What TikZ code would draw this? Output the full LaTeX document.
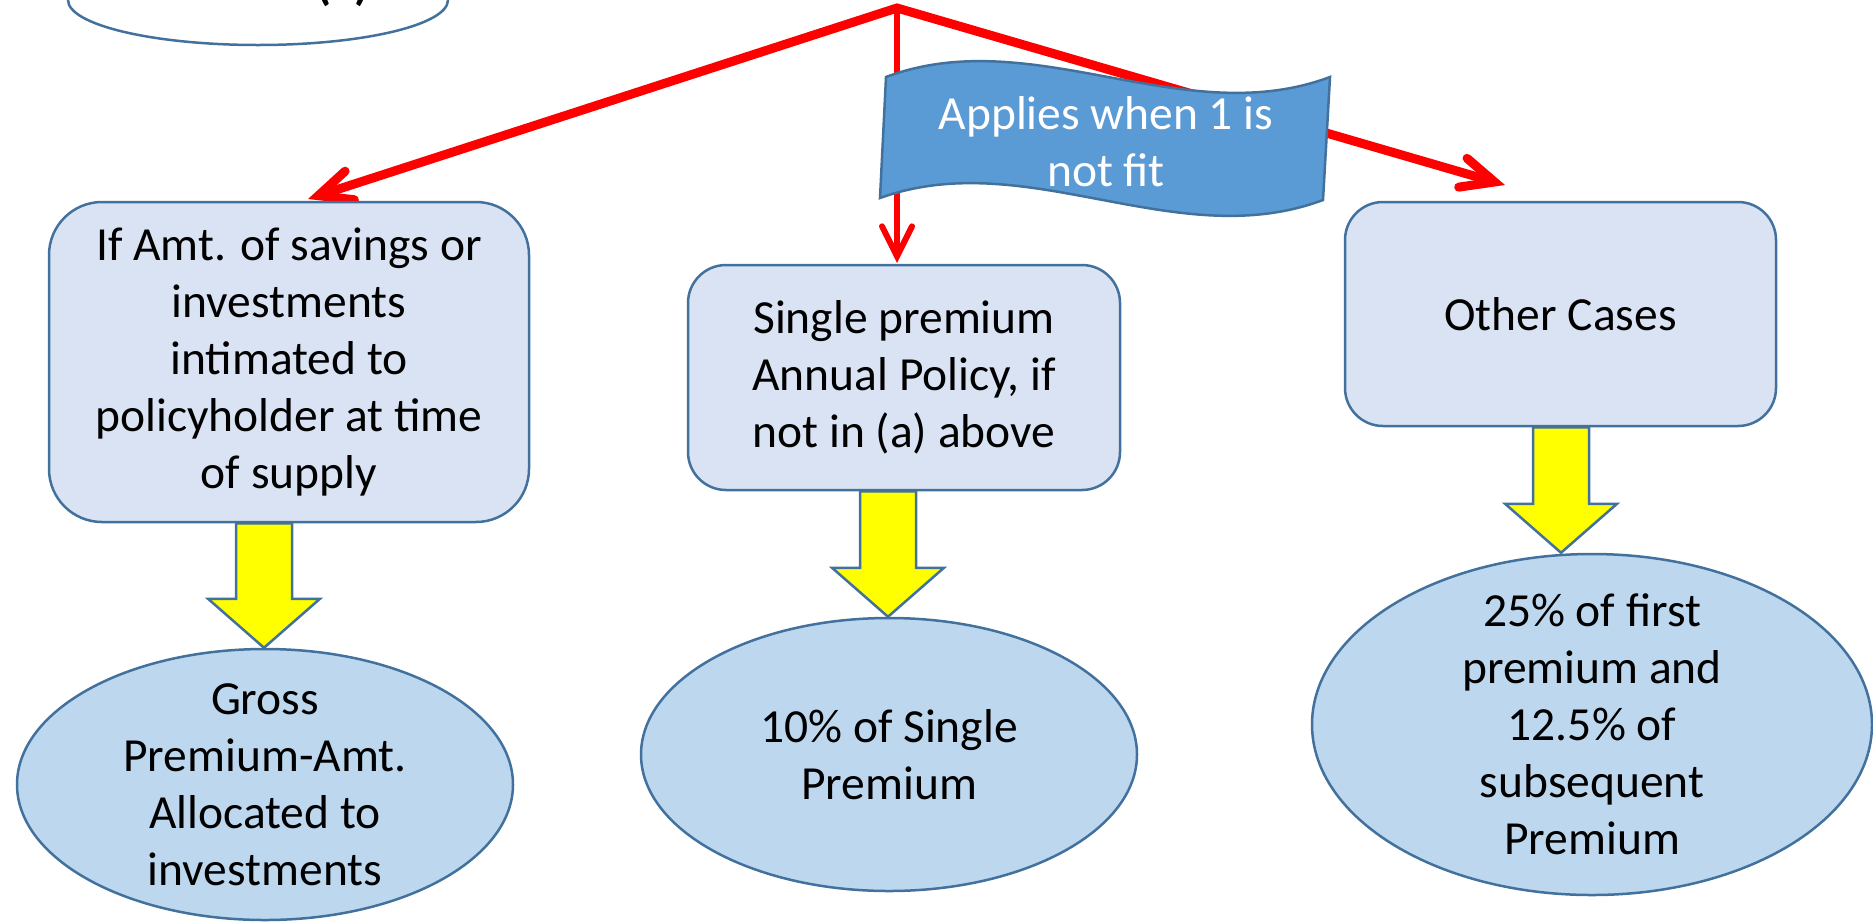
\documentclass[tikz,border=0pt]{standalone}
\usepackage{fontspec}
\setmainfont{Carlito}
\usetikzlibrary{arrows.meta,shapes.geometric,calc}
\definecolor{edgeblue}{HTML}{41719C}
\definecolor{boxfill}{HTML}{DAE3F3}
\definecolor{ovalfill}{HTML}{BDD7EE}
\definecolor{flagfill}{HTML}{5B9BD5}
\definecolor{flowred}{HTML}{FF0000}
\definecolor{blockyellow}{HTML}{FFFF00}

\begin{document}
\begin{tikzpicture}[x=1pt,y=-1pt,
  txt/.style={font=\fontsize{47.5}{57}\selectfont, align=center, inner sep=0pt},
  card/.style={txt, draw=edgeblue, line width=2.5pt, fill=boxfill, rectangle},
  oval/.style={draw=edgeblue, line width=2.5pt, fill=ovalfill, ellipse, inner sep=0pt},
  redline/.style={draw=flowred, line join=miter},
  blockarrow/.style={draw=edgeblue, line width=2.5pt, fill=blockyellow, line join=miter}
]
\useasboundingbox (0,0) rectangle (1873,922);

% heading oval, mostly above the page
\node[oval, fill=white, minimum width=380pt, minimum height=90pt] (start) at (258,0) {};
\node[txt, font=\bfseries\fontsize{48}{57}\selectfont, anchor=base] (starttxt) at (343,-1) {(a)};

% red branches
\coordinate (apex) at (897,8);
\coordinate (t1) at (308,199);
\coordinate (t2) at (897,263);
\coordinate (t3) at (1505,185);
\draw[redline, line width=9pt,
  {Straight Barb[length=33pt, width=30pt, line cap=round, line join=miter]}-{Straight Barb[length=33pt, width=30pt, line cap=round, line join=miter]}]
  (t1) -- (apex) -- (t3);
\draw[redline, line width=6pt,
  -{Straight Barb[length=30pt, width=30pt, line cap=round, line join=miter]}] (apex) -- (t2);

% wavy note
\path[draw=edgeblue, line width=2.5pt, fill=flagfill]
  (886,77) .. controls (1033,22) and (1183,132) .. (1330,77)
  -- (1323,200) .. controls (1176,255) and (1027,145) .. (880,198) -- cycle;
\node[txt, text=white] (note) at (1106,142) {Applies when 1 is\\not fit};

% condition boxes
\node[card, rounded corners=53pt, minimum width=480pt, minimum height=320pt] (box1) at (289,362)
  {If Amt. of savings or\\investments\\intimated to\\policyholder at time\\of supply};
\node[card, rounded corners=38pt, minimum width=432pt, minimum height=225pt] (box2) at (904,377.5)
  {Single premium\\Annual Policy, if\\not in (a) above};
\node[card, rounded corners=38pt, minimum width=431pt, minimum height=224pt] (box3) at (1560.5,314)
  {Other Cases};

% outcome ovals
\node[oval, minimum width=496pt, minimum height=271pt] (res1) at (265,784.5) {};
\node[txt] (res1txt) at (res1) {Gross\\Premium-Amt.\\Allocated to\\investments};
\node[oval, minimum width=496pt, minimum height=273pt] (res2) at (889,754.5) {};
\node[txt] (res2txt) at (res2) {10\% of Single\\Premium};
\node[oval, minimum width=560pt, minimum height=341pt] (res3) at (1592,724.5) {};
\node[txt] (res3txt) at (res3) {25\% of first\\premium and\\12.5\% of\\subsequent\\Premium};

% yellow block arrows from each box to its outcome
\foreach \b/\r/\cx in {box1/res1/264, box2/res2/888, box3/res3/1561}{
  \draw[blockarrow] let \p1=(\cx,0 |- \b.south), \p2=(\cx,0 |- \r.north) in
    (\x1-28pt,\y1) -- (\x1+28pt,\y1) -- (\x1+28pt,\y2+49pt) -- (\x1+56pt,\y2+49pt)
    -- (\x1,\y2) -- (\x1-56pt,\y2+49pt) -- (\x1-28pt,\y2+49pt) -- cycle;
}
\end{tikzpicture}
\end{document}
